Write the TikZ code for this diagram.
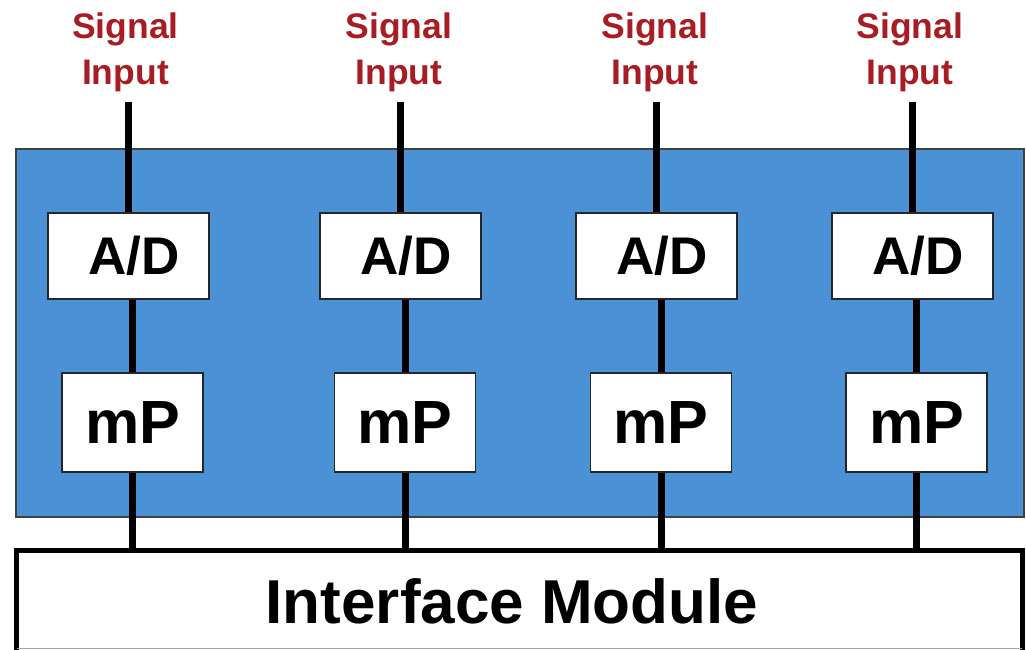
\documentclass[tikz,border=0pt]{standalone}
\usepackage{fontspec}
\setmainfont{Liberation Sans}
\definecolor{panelblue}{RGB}{74,145,213}
\definecolor{sigred}{RGB}{168,29,36}
\begin{document}
\begin{tikzpicture}[x=1pt,y=-1pt,
  panel/.style={draw=black!75, line width=1.5pt, fill=panelblue},
  adbox/.style={draw=black!85, line width=1.5pt, fill=white, inner sep=0pt,
    minimum width=161pt, minimum height=86pt,
    font=\fontsize{53}{60}\selectfont\bfseries},
  mpbox/.style={draw=black!85, line width=1.5pt, fill=white, inner sep=0pt,
    minimum width=141pt, minimum height=99pt,
    font=\fontsize{61}{70}\selectfont\bfseries},
  ifbox/.style={draw=black, line width=5pt, fill=white, inner sep=0pt},
  wire/.style={line width=7pt, black},
  siglabel/.style={text=sigred, inner sep=0pt, align=center,
    font=\fontsize{35.5}{46}\selectfont\bfseries},
  iflabel/.style={inner sep=0pt, font=\fontsize{62}{70}\selectfont\bfseries}]
\useasboundingbox (0,0) rectangle (1026,649);
\clip (0,0) rectangle (1026,649);

% blue carrier board
\fill[white] (0,0) rectangle (1026,649);
\draw[panel] (16,149) rectangle (1024,517);

% interface module (runs off the lower edge)
\node[ifbox, minimum width=1005.3pt, minimum height=120pt] (iface) at (519.35,610) {};
\draw[gray!70, line width=1pt] (16.7,648) -- (1022,648);
\node[iflabel, anchor=base] (iflab) at (512,623) {Interface Module};

% channels: A/D converter and microprocessor
\foreach \i/\ax/\mx/\sx in {1/128.5/132.5/125.5, 2/400.5/405/399, 3/656.5/661/655, 4/912.5/916.5/910} {
  \coordinate (in\i) at (\ax,102);
  \node[siglabel, anchor=base] (sig\i) at (\sx,84) {Signal\\Input};
  \node[adbox] (ad\i) at (\ax,256) {\hspace*{10.5pt}A/D};
  \node[mpbox] (mp\i) at (\mx,422.5) {mP};
  \draw[wire] (in\i) -- (ad\i.north);
  \draw[wire] (mp\i.north |- ad\i.south) -- (mp\i.north);
  \draw[wire] (mp\i.south) -- (mp\i.south |- iface.north);
}
\end{tikzpicture}
\end{document}
